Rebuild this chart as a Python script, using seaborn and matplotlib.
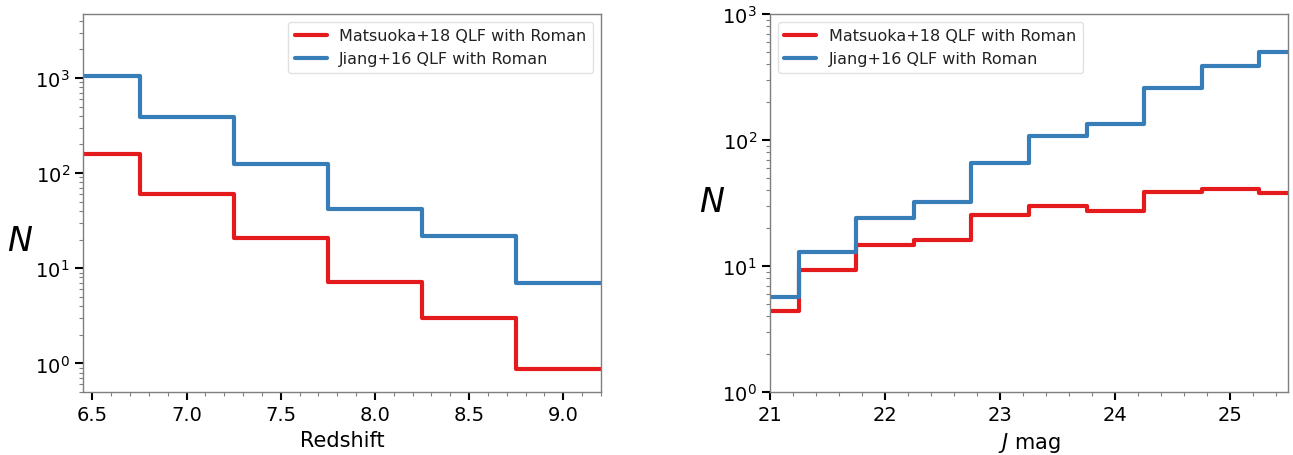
import numpy as np
import pandas as pd
import matplotlib
matplotlib.use("Agg")
import matplotlib.pyplot as plt
import seaborn as sns
from matplotlib.ticker import AutoMinorLocator, LogLocator, NullFormatter

# ---- data ----
z_centers = [6.5, 7.0, 7.5, 8.0, 8.5, 9.0]
z_matsuoka = [158, 60, 20.7, 7.2, 3.0, 0.87]
z_jiang = [1040, 392, 126, 42, 21.8, 7.0]

j_centers = [21.0, 21.5, 22.0, 22.5, 23.0, 23.5, 24.0, 24.5, 25.0, 25.5]
j_matsuoka = [4.4, 9.3, 14.7, 16.2, 25.2, 30.0, 27.3, 38.5, 40.5, 38.2]
j_jiang = [5.7, 13.0, 24.0, 32.3, 66, 108, 134, 258, 385, 495]

labels = ["Matsuoka+18 QLF with Roman", "Jiang+16 QLF with Roman"]
colors = ["#e41a1c", "#377eb8"]

sns.set_style("white")
plt.rcParams["font.family"] = ["DejaVu Sans"]
plt.rcParams.update({"text.color": "black", "axes.labelcolor": "black",
                     "xtick.color": "black", "ytick.color": "black",
                     "legend.labelcolor": "#222222"})

fig = plt.figure(figsize=(12.93, 4.56), dpi=100)
ax1 = fig.add_axes([83 / 1293, 63 / 456, 518 / 1293, 378 / 456])
ax2 = fig.add_axes([770 / 1293, 63 / 456, 518 / 1293, 378 / 456])


def step_frame(centers, values):
    c = np.asarray(centers, float)
    w = c[1] - c[0]
    edges = np.append(c - w / 2, c[-1] + w / 2)
    vals = np.append(values, values[-1])
    return pd.DataFrame({"x": edges, "y": vals})


for ax, centers, series in [
    (ax1, z_centers, [z_matsuoka, z_jiang]),
    (ax2, j_centers, [j_matsuoka, j_jiang]),
]:
    for vals, lab, col in zip(series, labels, colors):
        df = step_frame(centers, vals)
        sns.lineplot(data=df, x="x", y="y", ax=ax, drawstyle="steps-post",
                     color=col, lw=3, label=lab)
    ax.set_yscale("log")
    for s in ax.spines.values():
        s.set_color("#7f7f7f")
        s.set_linewidth(1.0)
    ax.tick_params(axis="both", which="major", direction="out", length=6,
                   width=1.5, color="black", labelsize=14, labelcolor="black",
                   left=True, bottom=True)
    ax.tick_params(axis="both", which="minor", direction="out", length=3,
                   width=0.8, color="#7f7f7f", left=True, bottom=True)
    ax.xaxis.set_minor_locator(AutoMinorLocator())
    ax.yaxis.set_major_locator(LogLocator(base=10))
    ax.yaxis.set_minor_locator(LogLocator(base=10, subs=np.arange(2, 10)))
    ax.yaxis.set_minor_formatter(NullFormatter())
    ax.set_ylabel("$N$", fontsize=24, rotation=0, va="center", ha="center")

ax1.yaxis.set_label_coords(-0.122, 0.40)
ax2.yaxis.set_label_coords(-0.112, 0.505)

ax1.set_xlim(6.45, 9.2)
ax1.set_ylim(0.5, 4700)
ax1.set_xticks([6.5, 7.0, 7.5, 8.0, 8.5, 9.0])
ax1.set_xlabel("Redshift", fontsize=15)
ax1.legend(loc="upper right", fontsize=11.5, frameon=True, edgecolor="#d9d9d9")

ax2.set_xlim(21, 25.5)
ax2.set_ylim(1, 1000)
ax2.set_xticks([21, 22, 23, 24, 25])
ax2.set_xlabel("$J$ mag", fontsize=15)
ax2.legend(loc="upper left", fontsize=11.5, frameon=True, edgecolor="#d9d9d9")

fig.savefig("out.png", dpi=100)
